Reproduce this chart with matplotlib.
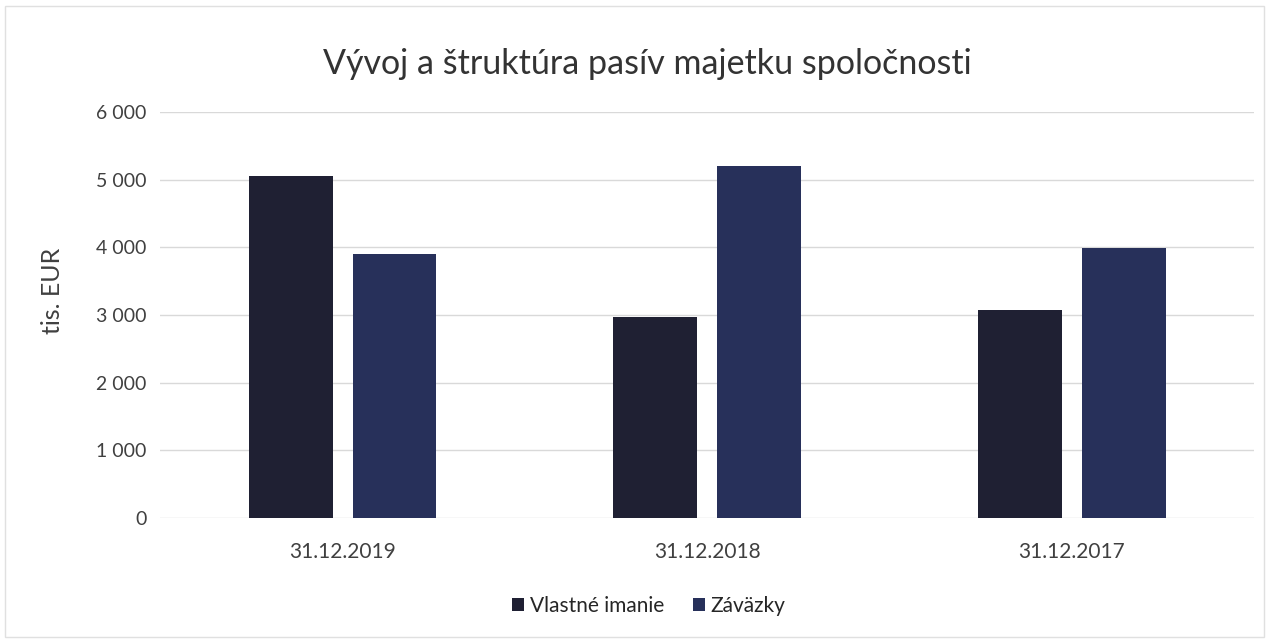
import numpy as np
import matplotlib.pyplot as plt
from matplotlib.ticker import FuncFormatter

plt.rcParams['font.family'] = ['Lato', 'DejaVu Sans']

# data (tis. EUR)
dates = ['31.12.2019', '31.12.2018', '31.12.2017']
vlastne_imanie = [5050, 2970, 3070]
zavazky = [3900, 5200, 3990]

col_vi = '#1f2033'
col_z = '#27305a'

fig = plt.figure(figsize=(12.72, 6.41), dpi=100)
ax = fig.add_axes([0.126, 0.192, 0.86, 0.633])

x = np.arange(len(dates))
w = 0.23
off = 0.1425
ax.bar(x - off, vlastne_imanie, w, color=col_vi, label='Vlastné imanie', zorder=3)
ax.bar(x + off, zavazky, w, color=col_z, label='Záväzky', zorder=3)

ax.set_xlim(-0.5, 2.5)
ax.set_ylim(0, 6000)
ax.set_yticks(range(0, 6001, 1000))
ax.yaxis.set_major_formatter(FuncFormatter(lambda v, p: f'{int(v):,}'.replace(',', ' ')))
ax.set_xticks(x)
ax.set_xticklabels(dates, fontsize=15)
ax.grid(axis='y', color='#d9d9d9', linewidth=1, zorder=0)
for s in ax.spines.values():
    s.set_visible(False)
ax.tick_params(axis='both', length=0, labelcolor='#404040')
ax.tick_params(axis='y', labelsize=14, pad=10)
ax.tick_params(axis='x', pad=17)
ax.set_ylabel('tis. EUR', fontsize=18, color='#404040')
ax.yaxis.set_label_coords(-0.088, 0.56)

fig.suptitle('Vývoj a štruktúra pasív majetku spoločnosti', fontsize=24.5,
             color='#333333', x=0.509, y=0.925)
fig.legend(loc='lower center', bbox_to_anchor=(0.51, 0.01), ncol=2, frameon=False,
           fontsize=15, handlelength=0.6, handleheight=0.6, handletextpad=0.25,
           columnspacing=1.4, labelcolor='#262626')

fig.patches.append(plt.Rectangle((0.004, 0.006), 0.99, 0.985, transform=fig.transFigure,
                                 fill=False, edgecolor='#e0e0e0', linewidth=1))

fig.savefig('out.png', dpi=100)
